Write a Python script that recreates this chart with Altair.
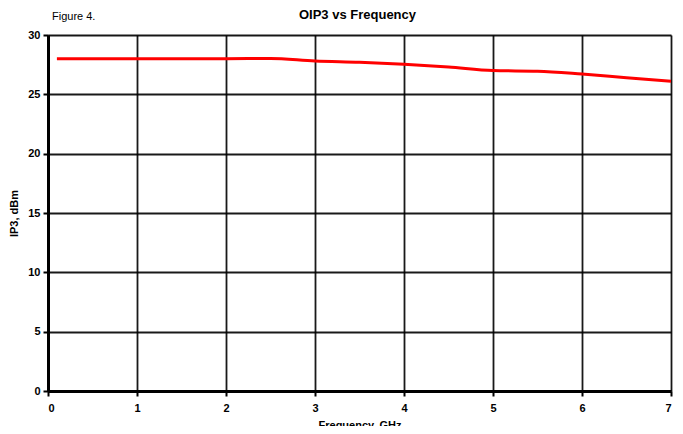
import altair as alt
import pandas as pd

freq = [0.1, 0.5, 1.0, 1.5, 2.0, 2.5, 3.0, 3.5, 4.0, 4.5, 5.0, 5.5, 6.0, 6.5, 7.0]
oip3 = [28.0, 28.0, 28.0, 28.0, 28.0, 28.03, 27.8, 27.7, 27.53, 27.3, 27.0, 26.95, 26.71, 26.4, 26.1]
x_ticks = [0, 1, 2, 3, 4, 5, 6, 7]
y_ticks = [0, 5, 10, 15, 20, 25, 30]

df = pd.DataFrame({"freq": freq, "oip3": oip3})
FONT = "Liberation Sans"
W, H = 623, 356

line = alt.Chart(df).mark_line(color="#ff0000", strokeWidth=3, interpolate="monotone").encode(
    x=alt.X("freq:Q", scale=alt.Scale(domain=[0, 7], nice=False),
            axis=alt.Axis(values=x_ticks, title="Frequency, GHz", format="d",
                          grid=True, gridColor="#000000", gridWidth=1.8, gridOpacity=0.9,
                          domainColor="#000000", domainWidth=3,
                          tickColor="#000000", tickSize=5, tickWidth=2,
                          labelFont=FONT, labelFontSize=11, labelFontWeight="bold", labelColor="#000000",
                          labelPadding=6,
                          titleFont=FONT, titleFontSize=11, titleFontWeight="bold", titleColor="#000000",
                          titlePadding=6, titleBaseline="top")),
    y=alt.Y("oip3:Q", scale=alt.Scale(domain=[0, 30], nice=False),
            axis=alt.Axis(values=y_ticks, title="IP3, dBm", format="d",
                          grid=True, gridColor="#000000", gridWidth=1.8, gridOpacity=0.9,
                          domainColor="#000000", domainWidth=3,
                          tickColor="#000000", tickSize=5, tickWidth=2,
                          labelFont=FONT, labelFontSize=11, labelFontWeight="bold", labelColor="#000000",
                          labelPadding=3,
                          titleFont=FONT, titleFontSize=11, titleFontWeight="bold", titleColor="#000000",
                          titlePadding=8)),
)

fig = alt.Chart(pd.DataFrame({"t": ["Figure 4."]})).mark_text(
    font=FONT, fontSize=11, align="left", baseline="middle", color="#000000"
).encode(x=alt.value(4), y=alt.value(-18), text="t:N")

ttl = alt.Chart(pd.DataFrame({"t": ["OIP3 vs Frequency"]})).mark_text(
    font=FONT, fontSize=13, fontWeight="bold", align="center", baseline="middle", color="#000000"
).encode(x=alt.value(W / 2 - 2), y=alt.value(-20), text="t:N")

chart = alt.layer(line, fig, ttl).properties(
    width=W, height=H,
    autosize=alt.AutoSizeParams(type="none"),
    padding={"left": 40, "top": 27, "right": 4, "bottom": 35},
).configure_view(stroke="#000000", strokeWidth=2).configure(background="#ffffff")

chart.save("out.html", embed_options={"renderer": "svg", "actions": False})
